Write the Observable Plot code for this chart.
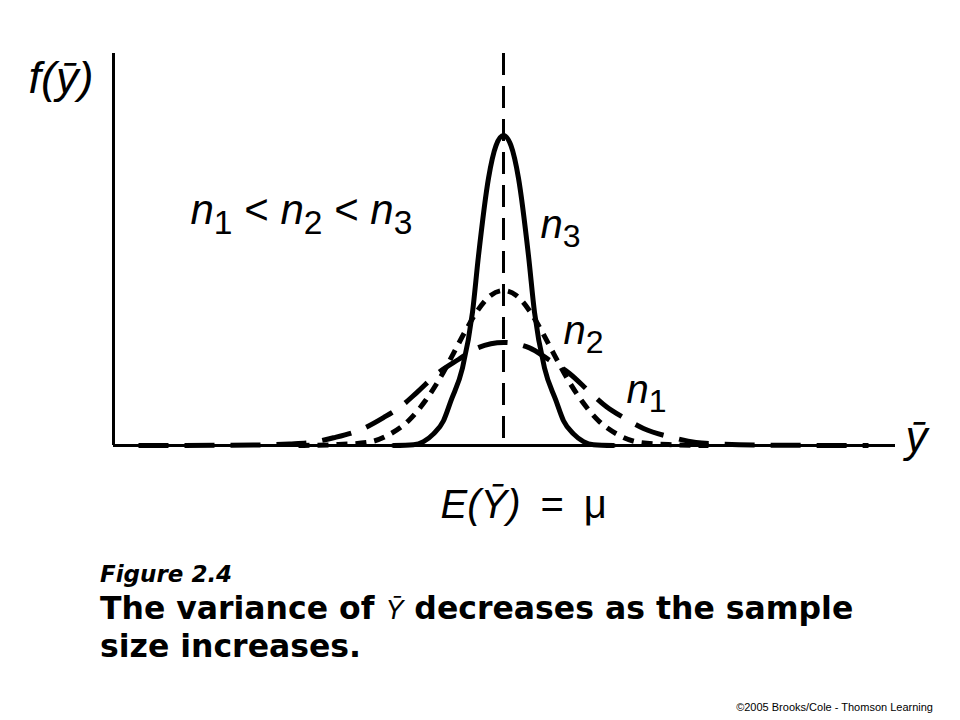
<!DOCTYPE html>
<html>
<head>
<meta charset="utf-8">
<script src="https://cdn.jsdelivr.net/npm/d3@7"></script>
<script src="https://cdn.jsdelivr.net/npm/@observablehq/plot@0.6"></script>
<style>
  html, body { margin: 0; padding: 0; background: #fff; }
  #wrap { position: relative; width: 960px; height: 720px; overflow: hidden; }
  #cap { position: absolute; left: 100px; top: 560px; font-family: "DejaVu Sans", sans-serif; font-weight: bold; color: #000; }
  #cap .fig { font-style: italic; font-size: 23px; line-height: 28px; height: 28px; }
  #cap .main { font-size: 31.5px; line-height: 38px; margin-top: 1px; white-space: nowrap; }
  #cap .yb { font-family: "Liberation Sans", sans-serif; font-weight: normal; font-style: italic; font-size: 27px; line-height: 0; }
  #copy { position: absolute; right: 27px; top: 701px; font-family: "Liberation Sans", Arial, sans-serif; font-size: 11px; color: #000; }
</style>
</head>
<body>
<div id="wrap">
  <div id="chart"></div>
  <div id="cap">
    <div class="fig">Figure 2.4</div>
    <div class="main">The variance of <span class="yb">Ȳ</span> decreases as the sample<br>size increases.</div>
  </div>
  <div id="copy">©2005 Brooks/Cole - Thomson Learning</div>
</div>
<script>
// Curve readings (x in units centred on E(Ȳ), y = density f(ȳ))
const n3X = [-4.4,-3.6,-3.2,-2.8,-2.4,-2.1,-1.64,-1.24,-1.0,-0.6,-0.3,0,0.3,0.6,1.0,1.24,1.64,2.1,2.4,2.8,3.2,3.6,4.4];
const n3Y = [0,0.001,0.005,0.015,0.032,0.058,0.100,0.172,0.245,0.345,0.387,0.400,0.387,0.345,0.245,0.172,0.100,0.058,0.032,0.015,0.005,0.001,0];
const n2X = [-8.2,-6.8,-5.44,-4.52,-3.8,-3.12,-2.52,-2.0,-1.52,-1.04,-0.5,0,0.5,1.04,1.52,2.0,2.52,3.12,3.8,4.52,5.44,6.8,8.2];
const n2Y = [0,0.001,0.004,0.015,0.032,0.058,0.088,0.119,0.148,0.174,0.194,0.200,0.194,0.174,0.148,0.119,0.088,0.058,0.032,0.015,0.004,0.001,0];
const n1X = [-14.6,-10,-8.56,-7.7,-6.8,-5.6,-4.8,-4.12,-3.48,-2.64,-1.8,-1.04,0,1.04,1.8,2.64,3.48,4.12,4.8,5.6,6.8,7.7,8.56,10,14.6];
const n1Y = [0,0.0005,0.002,0.004,0.010,0.022,0.036,0.050,0.068,0.093,0.111,0.126,0.133,0.126,0.111,0.093,0.068,0.050,0.036,0.022,0.010,0.004,0.002,0.0005,0];
const meanX = 0;
const xDomain = [-15.6, 15.68];
const yDomain = [0, 0.506];

// Labels (markup: *italic*, _d subscript)
const yAxisLabel = "*f(ȳ)*";
const xAxisLabel = "*ȳ*";
const orderLabel = "*n*_1 < *n*_2 < *n*_3";
const n3Label = "*n*_3";
const n2Label = "*n*_2";
const n1Label = "*n*_1";
const meanLabel = "*E(Ȳ)*\u2002=\u2002μ";

const toRows = (xs, ys) => xs.map((x, i) => ({x, y: ys[i]}));
const lineOpts = {x: "x", y: "y", curve: "monotone-x", stroke: "#000", strokeWidth: 5};
const txt = (label, x, y, size) => Plot.text([label], {
  x: () => x, y: () => y, text: d => d, textAnchor: "start", lineAnchor: "bottom",
  fontSize: size, fontFamily: "Liberation Sans", fill: "#000"
});

const plot = Plot.plot({
  width: 960, height: 545,
  marginLeft: 113, marginRight: 65, marginTop: 53, marginBottom: 100,
  x: {domain: xDomain, axis: null},
  y: {domain: yDomain, axis: null},
  marks: [
    Plot.ruleX([xDomain[0]], {stroke: "#000", strokeWidth: 3}),
    Plot.ruleY([0], {stroke: "#000", strokeWidth: 3}),
    Plot.ruleX([meanX], {stroke: "#000", strokeWidth: 3, strokeDasharray: "22,11"}),
    Plot.line(toRows(n1X, n1Y), {...lineOpts, strokeDasharray: "30,16", strokeLinecap: "butt"}),
    Plot.line(toRows(n2X, n2Y), {...lineOpts, strokeDasharray: "11,8", strokeLinecap: "butt"}),
    Plot.line(toRows(n3X, n3Y), {...lineOpts}),
    txt(yAxisLabel, -19.0, 0.4555, 45),
    txt(xAxisLabel, 16.08, -0.009, 44),
    txt(orderLabel, -12.52, 0.2864, 42),
    txt(n3Label, 1.48, 0.2683, 40),
    txt(n2Label, 2.4, 0.1316, 40),
    txt(n1Label, 4.92, 0.0555, 40),
    txt(meanLabel, -2.52, -0.094, 40)
  ]
});
plot.style.overflow = "visible";
document.getElementById("chart").appendChild(plot);

// Rich text: italic runs and subscripts
d3.select(plot).selectAll("g[aria-label='text'] text").each(function () {
  const s = this.textContent;
  const fs = parseFloat(getComputedStyle(this).fontSize) || 40;
  const shift = 0.24 * fs;
  const toks = s.split(/(\*[^*]+\*|_\d)/).filter(t => t);
  const el = d3.select(this);
  el.text(null);
  let down = false;
  for (const t of toks) {
    const ts = el.append("tspan");
    if (t.startsWith("_")) {
      ts.text(t.slice(1)).attr("font-size", (0.8 * fs) + "px").attr("dy", shift);
      down = true;
      continue;
    }
    if (t.startsWith("*")) ts.text(t.slice(1, -1)).attr("font-style", "italic");
    else ts.text(t);
    if (down) { ts.attr("dy", -shift); down = false; }
  }
});
</script>
</body>
</html>
